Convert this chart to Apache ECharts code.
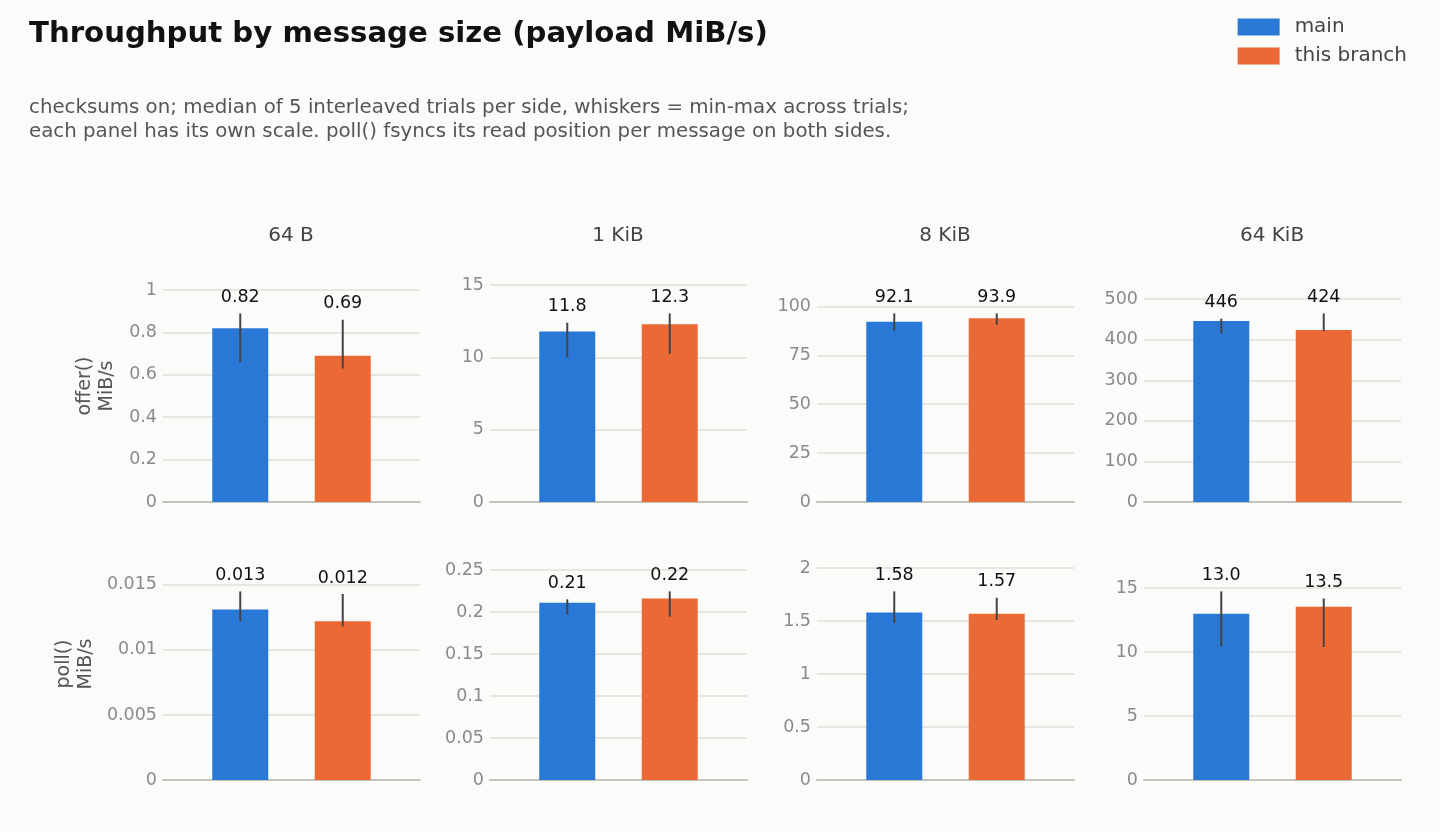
<!DOCTYPE html>
<html>
<head>
<meta charset="utf-8">
<script src="https://cdn.jsdelivr.net/npm/echarts@6/dist/echarts.min.js"></script>
<style>
  html, body { margin: 0; padding: 0; background: #fbfbf9; }
  #main { width: 1440px; height: 832px; }
</style>
</head>
<body>
<div id="main"></div>
<script>
// panel columns and rows
const sizes = ['64 B', '1 KiB', '8 KiB', '64 KiB'];
const ops = ['offer()\nMiB/s', 'poll()\nMiB/s'];
const seriesNames = ['main', 'this branch'];

// offer() row: median, min, max per message size
const offerMain = [0.82, 11.8, 92.1, 446];
const offerMainMin = [0.66, 10.0, 87.4, 415];
const offerMainMax = [0.89, 12.4, 96.4, 452];
const offerBranch = [0.69, 12.3, 93.9, 424];
const offerBranchMin = [0.63, 10.25, 90.6, 421];
const offerBranchMax = [0.86, 13.05, 96.4, 465];

// poll() row
const pollMain = [0.0131, 0.211, 1.58, 13.0];
const pollMainMin = [0.0122, 0.197, 1.48, 10.45];
const pollMainMax = [0.0145, 0.215, 1.78, 14.75];
const pollBranch = [0.0122, 0.216, 1.57, 13.54];
const pollBranchMin = [0.0118, 0.1945, 1.51, 10.4];
const pollBranchMax = [0.0143, 0.2245, 1.72, 14.2];

// tick steps and label decimals per panel
const offerTicks = [0.2, 5, 25, 100];
const pollTicks = [0.005, 0.05, 0.5, 5];
const offerDecimals = [2, 1, 1, 0];
const pollDecimals = [3, 2, 2, 1];

const colors = ['#2a78d6', '#ea6935'];
const FONT = 'DejaVu Sans';

const rows = [
  { med: [offerMain, offerBranch], lo: [offerMainMin, offerBranchMin], hi: [offerMainMax, offerBranchMax], ticks: offerTicks, dec: offerDecimals, top: 270, nameGap: 45 },
  { med: [pollMain, pollBranch], lo: [pollMainMin, pollBranchMin], hi: [pollMainMax, pollBranchMax], ticks: pollTicks, dec: pollDecimals, top: 548, nameGap: 66 }
];

const chart = echarts.init(document.getElementById('main'));

const grids = [], xAxes = [], yAxes = [], series = [];
const titles = [
  { text: 'Throughput by message size (payload MiB/s)', left: 29, top: 20, padding: 0,
    textStyle: { fontFamily: FONT, fontSize: 29.2, fontWeight: 'bold', color: '#111' } },
  { text: 'checksums on; median of 5 interleaved trials per side, whiskers = min-max across trials;\neach panel has its own scale. poll() fsyncs its read position per message on both sides.',
    left: 29, top: 96, padding: 0,
    textStyle: { fontFamily: FONT, fontSize: 19.8, fontWeight: 'normal', color: '#555', lineHeight: 24 } }
];

sizes.forEach((s, c) => {
  titles.push({ text: s, left: 163 + c * 327 + 128, top: 226, padding: 0, textAlign: 'center',
    textStyle: { fontFamily: FONT, fontSize: 20, fontWeight: 'normal', color: '#444' } });
});

rows.forEach((row, r) => {
  sizes.forEach((s, c) => {
    const idx = grids.length;
    grids.push({ left: 163 + c * 327, top: row.top, width: 257, height: 232 });
    const peak = Math.max(row.hi[0][c], row.hi[1][c]);
    xAxes.push({
      gridIndex: idx, type: 'value', min: -0.754, max: 1.754,
      axisLabel: { show: false }, axisTick: { show: false }, splitLine: { show: false },
      axisLine: { show: true, lineStyle: { color: '#c4c4ba', width: 2 } }
    });
    yAxes.push({
      gridIndex: idx, type: 'value', min: 0, max: peak * 1.23, interval: row.ticks[c],
      name: c === 0 ? ops[r] : '', nameLocation: 'middle', nameRotate: 90, nameGap: row.nameGap,
      nameTextStyle: { fontFamily: FONT, fontSize: 19, color: '#555', lineHeight: 22 },
      axisLine: { show: false }, axisTick: { show: false },
      axisLabel: { showMaxLabel: false, color: '#8a8a8a', fontSize: 17.5, fontFamily: FONT, margin: 6 },
      splitLine: { showMaxLine: false, lineStyle: { color: '#e0e0da', width: 1.5 } }
    });
    seriesNames.forEach((name, k) => {
      series.push({
        name, type: 'bar', xAxisIndex: idx, yAxisIndex: idx,
        barWidth: 56, barGap: '-100%',
        itemStyle: { color: colors[k] },
        data: [[k, row.med[k][c]]],
        silent: true
      });
    });
    const labels = [0, 1].map(k => row.med[k][c].toFixed(row.dec[c]));
    series.push({
      type: 'custom', xAxisIndex: idx, yAxisIndex: idx, silent: true, z: 5,
      data: [0, 1].map(k => [k, row.lo[k][c], row.hi[k][c]]),
      renderItem: (params, api) => {
        const lo = api.coord([api.value(0), api.value(1)]);
        const hi = api.coord([api.value(0), api.value(2)]);
        return {
          type: 'group',
          children: [
            { type: 'line', shape: { x1: lo[0], y1: lo[1], x2: hi[0], y2: hi[1] },
              style: { stroke: '#444', lineWidth: 2 } },
            { type: 'text', x: hi[0], y: hi[1] - 7,
              style: { text: labels[params.dataIndex], align: 'center', verticalAlign: 'bottom',
                fill: '#111', fontSize: 17.5, fontFamily: FONT } }
          ]
        };
      }
    });
  });
});

const option = {
  backgroundColor: '#fbfbf9',
  animation: false,
  title: titles,
  legend: {
    data: seriesNames, orient: 'vertical', right: 28, top: 12,
    icon: 'rect', itemWidth: 42, itemHeight: 17, itemGap: 9,
    textStyle: { fontFamily: FONT, fontSize: 20, color: '#444', padding: [0, 0, 0, 10] }
  },
  grid: grids,
  xAxis: xAxes,
  yAxis: yAxes,
  series
};

chart.setOption(option);
</script>
</body>
</html>
